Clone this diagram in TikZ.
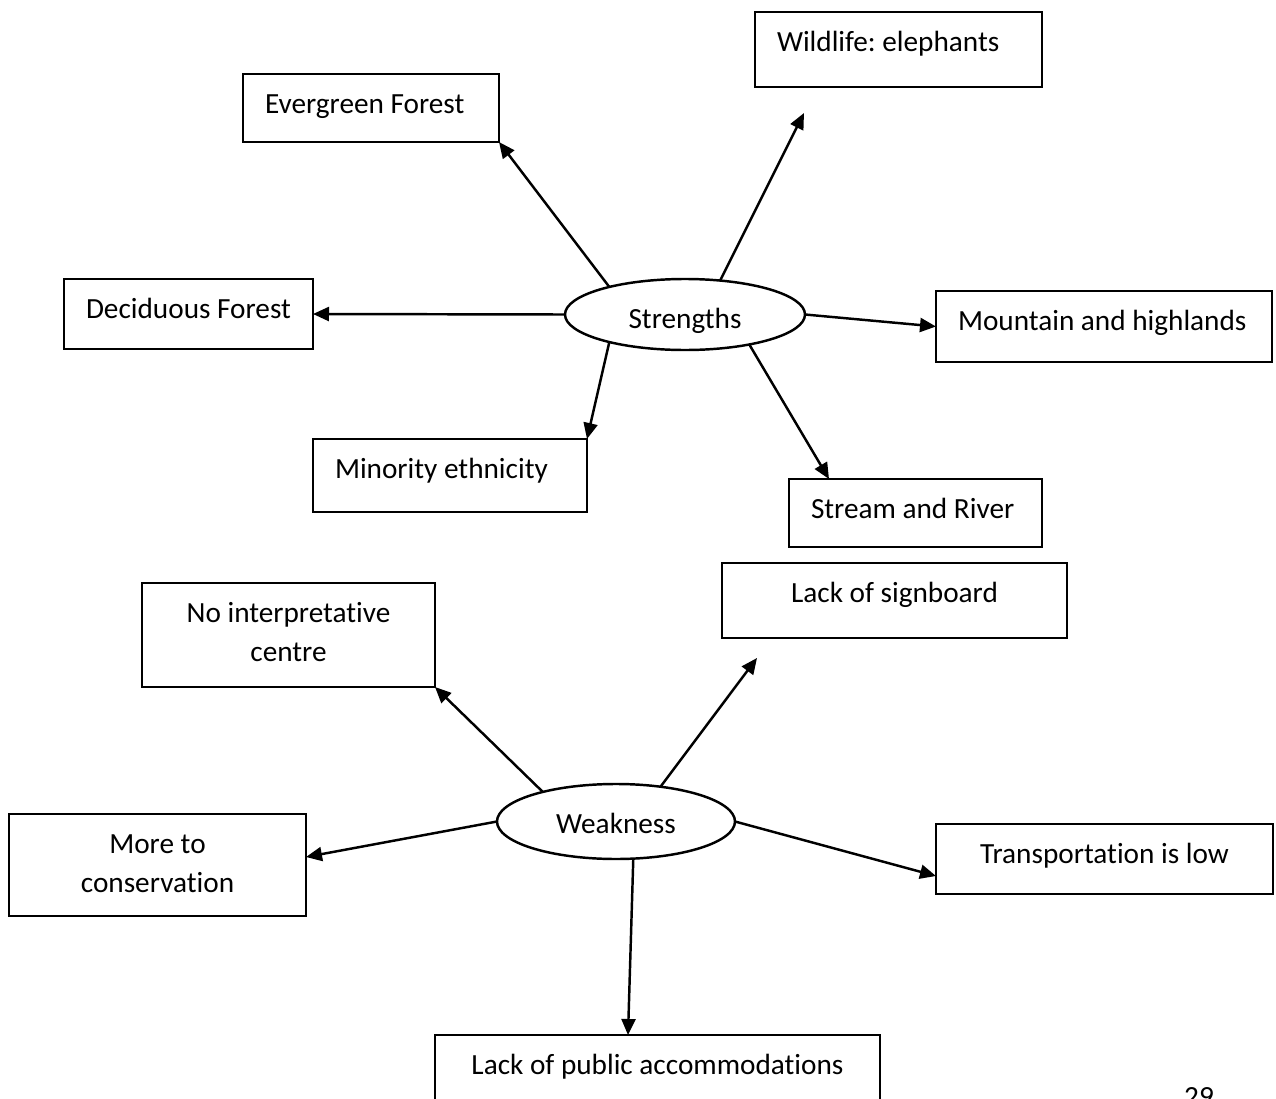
\documentclass[tikz,border=0pt]{standalone}
\usepackage{fontspec}
\setmainfont[Ligatures={NoCommon}]{Carlito}
\usetikzlibrary{arrows.meta,shapes.geometric,calc}
\newdimen\pxu \pxu=0.02cm
\newcommand\lbox[3]{\parbox[c][#2\pxu][t]{#1\pxu}{\raggedright\hspace*{22\pxu}\rule{0pt}{39\pxu}#3}}
\newcommand\cbox[3]{\parbox[c][#2\pxu][t]{#1\pxu}{\centering\rule{0pt}{39\pxu}#3}}
\frenchspacing
\tikzset{
  box/.style={draw, line width=1.4pt, inner sep=0pt, outer sep=0pt, anchor=north west},
  ell/.style={draw, ellipse, line width=1.4pt, inner sep=0pt, outer sep=0pt, text depth=0pt},
  arr/.style={-{Triangle[length=0.32cm,width=0.28cm]}, line width=1.4pt}
}
\begin{document}
\begin{tikzpicture}[x=0.02cm,y=-0.02cm,font=\fontsize{16.65}{22.76}\selectfont]
\useasboundingbox (0,0) rectangle (1276,1099);
\clip (0,0) rectangle (1276,1099);
\fill[white] (0,0) rectangle (1276,1099);
% Strengths
\node[ell, minimum width=240\pxu, minimum height=71\pxu, text height=27\pxu] (S) at (685,314.5) {Strengths};
\node[box] (W) at (755,12) {\lbox{287}{75}{Wildlife: elephants}};
\node[box] (E) at (243,74) {\lbox{256}{68}{Evergreen Forest}};
\node[box] (D) at (64,279) {\lbox{249}{70}{Deciduous Forest}};
\node[box] (M) at (936,291) {\lbox{336}{71}{Mountain and highlands}};
\node[box] (Mi) at (313,439) {\lbox{274}{73}{Minority ethnicity}};
\node[box] (St) at (789,479) {\lbox{253}{68}{Stream and River}};
% Weakness
\node[ell, minimum width=238\pxu, minimum height=75\pxu, text height=23\pxu] (Wk) at (616,821.5) {Weakness};
\node[box] (L) at (722,563) {\cbox{345}{75}{Lack of signboard}};
\node[box] (N) at (142,583) {\cbox{293}{104}{No interpretative\\centre}};
\node[box] (Mc) at (9,814) {\cbox{297}{102}{More to\\conservation}};
\node[box] (T) at (936,824) {\cbox{337}{70}{Transportation is low}};
\node[box] (P) at (435,1035) {\cbox{445}{120}{Lack of public accommodations}};
\node[anchor=base] (pg) at (1199,1106) {29};
% free ends
\coordinate (wEnd) at (804,113);
\coordinate (lEnd) at (757,658);
% connectors
\draw[arr] (S.160) -- (E.south east);
\draw[arr] (S.44) -- (wEnd);
\draw[arr] (S.west) -- (D.east);
\draw[arr] (S.east) -- (M.west);
\draw[arr] (S.200) -- (Mi.north east);
\draw[arr] (S.335) -- ($(St.north west)+(40,0)$);
\draw[arr] (Wk.158) -- (N.south east);
\draw[arr] (Wk.38) -- (lEnd);
\draw[arr] (Wk.west) -- ($(Mc.east)+(0,-8)$);
\draw[arr] (Wk.east) -- ($(T.west)+(0,17)$);
\draw[arr] (Wk.295) -- ($(P.north west)+(193,0)$);
\end{tikzpicture}
\end{document}
